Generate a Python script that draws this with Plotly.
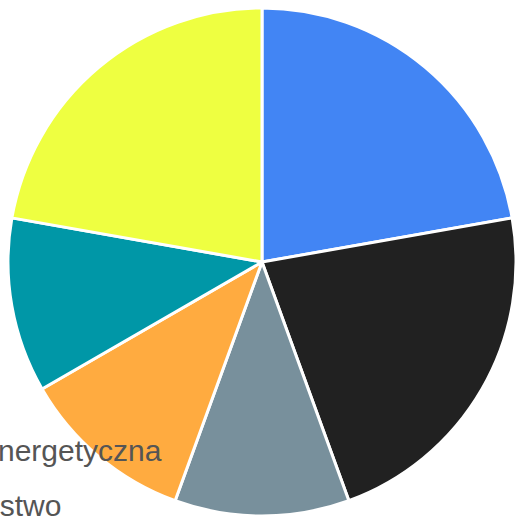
import plotly.graph_objects as go

labels = ["Polityka energetyczna", "Gospodarstwo", "Transport", "Przemysł", "Rolnictwo", "Budownictwo"]
values = [2, 2, 1, 1, 1, 2]
colors = ["#4285F4", "#212121", "#78909C", "#FFAB40", "#0097A7", "#EEFF41"]

legend_text = ['<span style="font-size:30px">%s</span>' % l for l in labels]

fig = go.Figure(go.Pie(
    labels=legend_text,
    values=values,
    sort=False,
    direction="clockwise",
    rotation=0,
    textinfo="none",
    hoverinfo="label+percent",
    marker=dict(colors=colors, line=dict(color="white", width=3)),
))

fig.update_layout(
    width=517, height=517,
    margin=dict(l=8, r=1, t=8, b=1, autoexpand=False),
    paper_bgcolor="white",
    plot_bgcolor="white",
    showlegend=True,
    legend=dict(
        x=-0.3545, y=0.2028, xanchor="left", yanchor="top",
        font=dict(family="Liberation Sans, Arial, sans-serif", size=40, color="#555555"),
        bgcolor="rgba(0,0,0,0)",
    ),
)

fig.write_html(
    "out.html",
    config={"displayModeBar": False},
    post_script="document.body.style.margin='0';document.documentElement.style.overflow='hidden';",
)
